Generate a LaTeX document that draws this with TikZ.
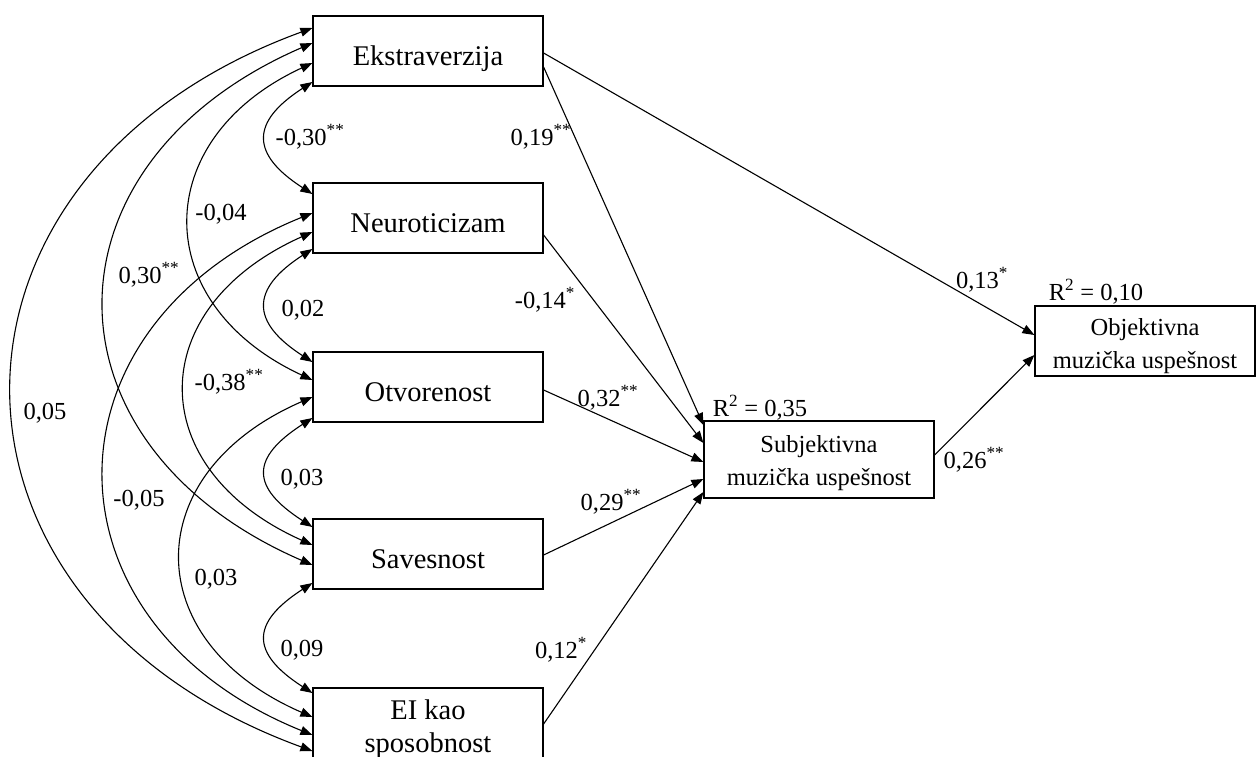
\documentclass[tikz,border=0pt]{standalone}
\usepackage{fontspec}
\setmainfont{Liberation Serif}
\usetikzlibrary{arrows.meta}
\begin{document}
\begin{tikzpicture}[x=1pt,y=-1pt,
  tip/.tip={Triangle[length=12pt,width=9pt]},
  trait/.style={draw, line width=1.2pt, minimum width=230pt, minimum height=70pt,
    inner sep=0pt, align=center, font=\fontsize{28.5}{33}\selectfont,
    text height=30pt, text depth=2pt},
  outcome/.style={draw, line width=1.2pt, minimum width=230pt, minimum height=70pt,
    inner sep=0pt, align=center, font=\fontsize{24.5}{33}\selectfont},
  lbl/.style={font=\fontsize{24.5}{28}\selectfont, inner sep=0pt, anchor=base},
  reg/.style={line width=1.1pt, -tip},
  cov/.style={line width=1.1pt, tip-tip},
]
\useasboundingbox (0,0) rectangle (1256,756);
\fill[white] (0,0) rectangle (1256,756);

% predictors
\node[trait] (E) at (428,51) {Ekstraverzija};
\node[trait] (N) at (428,218) {Neuroticizam};
\node[trait] (O) at (428,387) {Otvorenost};
\node[trait] (S) at (428,554) {Savesnost};
\node[trait, text height=63pt, text depth=5pt] (EI) at (428,723) {EI kao\\sposobnost};

% outcomes
\node[outcome, minimum height=77pt, text height=62pt, text depth=11pt] (SU) at (819,459.5)
  {Subjektivna\\muzička uspešnost};
\node[outcome, minimum width=220pt, text height=62pt, text depth=8pt] (OU) at (1145,341)
  {Objektivna\\muzička uspešnost};

\node[lbl] (r2s) at (760,416) {R\textsuperscript{2} = 0,35};
\node[lbl] (r2o) at (1096,300) {R\textsuperscript{2} = 0,10};

% correlations between predictors
\draw[cov] ([yshift=23pt]E.west) .. controls +(-400,146) and +(-400,-146) .. ([yshift=-28pt]EI.west);
\draw[cov] ([yshift=8pt]E.west) .. controls +(-277,120) and +(-277,-120) .. ([yshift=-11pt]S.west);
\draw[cov] ([yshift=-12pt]E.west) .. controls +(-164,76) and +(-164,-76) .. ([yshift=7pt]O.west);
\draw[cov] ([yshift=-31pt]E.west) .. controls +(-62,40) and +(-62,-40) .. ([yshift=24pt]N.west);
\draw[cov] ([yshift=5pt]N.west) .. controls +(-277,112) and +(-277,-112) .. ([yshift=-12pt]EI.west);
\draw[cov] ([yshift=-14pt]N.west) .. controls +(-170,76) and +(-170,-76) .. ([yshift=9pt]S.west);
\draw[cov] ([yshift=-31pt]N.west) .. controls +(-62,40) and +(-62,-40) .. ([yshift=25pt]O.west);
\draw[cov] ([yshift=-10pt]O.west) .. controls +(-175,76) and +(-175,-76) .. ([yshift=6pt]EI.west);
\draw[cov] ([yshift=-31pt]O.west) .. controls +(-62,40) and +(-62,-40) .. ([yshift=27pt]S.west);
\draw[cov] ([yshift=-29pt]S.west) .. controls +(-62,40) and +(-62,-40) .. ([yshift=30pt]EI.west);

\node[lbl] (c1) at (310,145) {-0,30\textsuperscript{**}};
\node[lbl] (c2) at (221,220) {-0,04};
\node[lbl] (c3) at (149,283) {0,30\textsuperscript{**}};
\node[lbl] (c4) at (303,316) {0,02};
\node[lbl] (c5) at (229,390) {-0,38\textsuperscript{**}};
\node[lbl] (c6) at (45,419) {0,05};
\node[lbl] (c7) at (302,485) {0,03};
\node[lbl] (c8) at (139,506) {-0,05};
\node[lbl] (c9) at (216,585) {0,03};
\node[lbl] (c10) at (302,656) {0,09};

% regression paths
\draw[reg] ([yshift=-2pt]E.east) -- ([yshift=6pt]OU.west);
\draw[reg] ([yshift=4.5pt]SU.east) -- ([yshift=-14pt]OU.west);
\draw[reg] ([yshift=-16pt]E.east) -- ([yshift=34.5pt]SU.west);
\draw[reg] ([yshift=-17pt]N.east) -- ([yshift=16.5pt]SU.west);
\draw[reg] ([yshift=-3pt]O.east) -- ([yshift=-2.5pt]SU.west);
\draw[reg] ([yshift=-1pt]S.east) -- ([yshift=-19.5pt]SU.west);
\draw[reg] ([yshift=-1pt]EI.east) -- ([yshift=-32.5pt]SU.west);

\node[lbl] (b1) at (541,145) {0,19\textsuperscript{**}};
\node[lbl] (b2) at (545,308) {-0,14\textsuperscript{*}};
\node[lbl] (b3) at (982,288) {0,13\textsuperscript{*}};
\node[lbl] (b4) at (608,406) {0,32\textsuperscript{**}};
\node[lbl] (b5) at (611,510) {0,29\textsuperscript{**}};
\node[lbl] (b6) at (561,658) {0,12\textsuperscript{*}};
\node[lbl] (b7) at (974,468) {0,26\textsuperscript{**}};
\end{tikzpicture}
\end{document}
